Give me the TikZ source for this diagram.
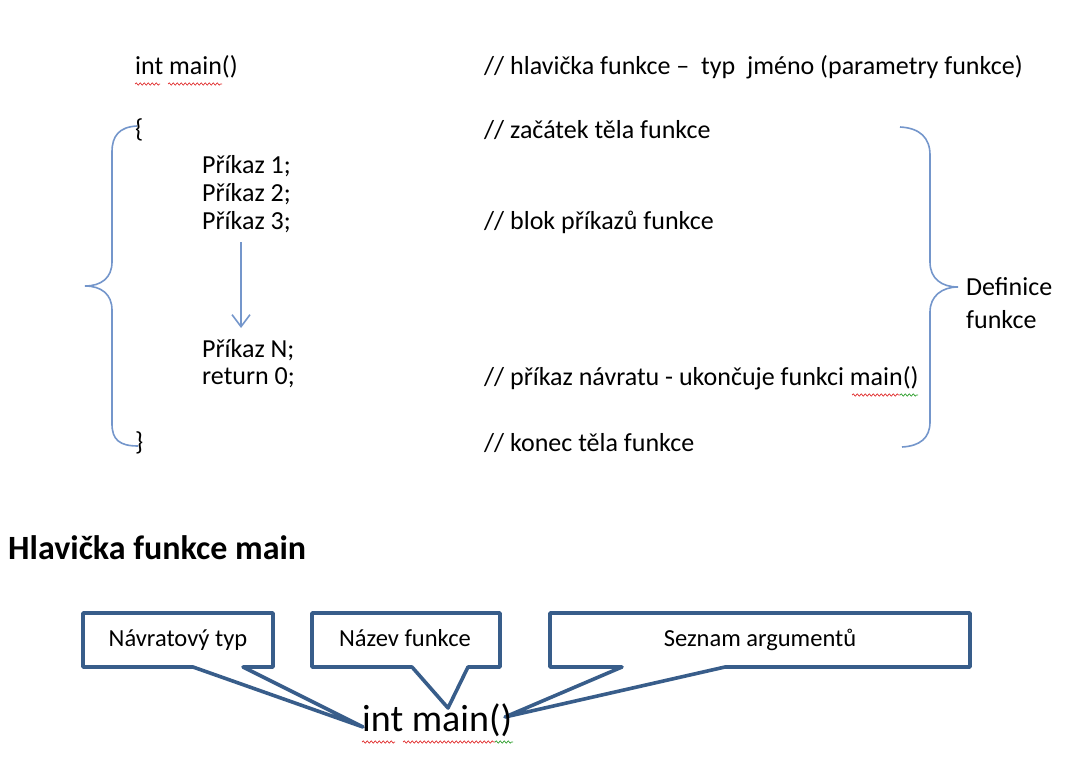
\documentclass[tikz,border=0pt]{standalone}
\usepackage{fontspec}
\setmainfont{Carlito}
\usetikzlibrary{arrows.meta,decorations.pathmorphing}
\definecolor{bracec}{HTML}{7496CB}
\definecolor{callc}{HTML}{385D8A}
\definecolor{spellred}{HTML}{E03030}
\definecolor{spellgreen}{HTML}{30A030}
\tikzset{
  txt/.style={anchor=west, inner sep=0pt, font=\fontsize{26}{31}\selectfont},
  ctxt/.style={anchor=base, inner sep=0pt, font=\fontsize{24.5}{29}\selectfont},
  bracepath/.style={draw=bracec, line width=1.6pt},
  calloutshape/.style={draw=callc, line width=3.6pt, fill=white, line join=round},
  flowarrow/.style={draw=bracec, line width=1.6pt, -{Straight Barb[length=12pt,width=18pt,line width=1.6pt]}},
  wavy/.style={line width=0.7pt, decorate, decoration={snake, amplitude=1.1pt, segment length=4pt}}
}
\begin{document}
\begin{tikzpicture}[x=1pt,y=-1pt]
\path[use as bounding box] (0,0) rectangle (1082,760);

% code lines
\node[txt] (hdr) at (135,67) {int main()};
\node[txt] (c1) at (484,67) {// hlavička funkce –\ \ typ\ \ jméno (parametry funkce)};
\node[txt] (ob) at (135,130) {\{};
\node[txt] (c2) at (484,130) {// začátek těla funkce};
\node[txt] (p1) at (202,166) {Příkaz 1;};
\node[txt] (p2) at (202,194) {Příkaz 2;};
\node[txt] (p3) at (202,222) {Příkaz 3;};
\node[txt] (c3) at (484,222) {// blok příkazů funkce};
\node[txt] (pn) at (202,350) {Příkaz N;};
\node[txt] (ret) at (202,378) {return 0;};
\node[txt] (c4) at (484,378) {// příkaz návratu - ukončuje funkci main()};
\node[txt] (cb) at (135,443) {\}};
\node[txt] (c5) at (484,443) {// konec těla funkce};
\node[txt] (def1) at (966,287) {Definice};
\node[txt] (def2) at (966,320) {funkce};

% spell-check underlines
\draw[spellred, wavy] (135,84) -- (160,84);
\draw[spellred, wavy] (168,84) -- (222,84);
\draw[spellred, wavy] (852,395) -- (900,395);
\draw[spellgreen, wavy] (900,395) -- (918,395);

% flow arrow
\coordinate (aS) at (241,242);
\coordinate (aE) at (241,328);
\draw[flowarrow] (aS) -- (aE);

% braces
\draw[bracepath] (137,126) .. controls (119,127) and (112,136) .. (112,152) -- (112,262)
  .. controls (112,278) and (101,286) .. (85,286)
  .. controls (101,286) and (112,294) .. (112,310) -- (112,424)
  .. controls (112,440) and (120,446) .. (138,446);
\draw[bracepath] (900,127) .. controls (920,128) and (930,138) .. (930,155) -- (930,262)
  .. controls (930,279) and (942,287) .. (958,287)
  .. controls (942,287) and (930,296) .. (930,312) -- (930,422)
  .. controls (930,438) and (920,446) .. (902,447);

% heading
\node[anchor=west, inner sep=0pt, font=\fontsize{34}{40}\selectfont\bfseries] (head) at (8,548) {Hlavička funkce main};

% callouts
\draw[calloutshape] (83,613) -- (273,613) -- (273,667) -- (243,667) -- (363,727) -- (193,667) -- (83,667) -- cycle;
\draw[calloutshape] (312,613) -- (500,613) -- (500,667) -- (468,667) -- (448,708) -- (412,667) -- (312,667) -- cycle;
\draw[calloutshape] (550,613) -- (970,613) -- (970,667) -- (725,667) -- (505,717) -- (622,667) -- (550,667) -- cycle;
\node[ctxt] (b1) at (178,646) {Návratový typ};
\node[ctxt] (b2) at (405,646) {Název funkce};
\node[ctxt] (b3) at (760,646) {Seznam argumentů};

\node[anchor=west, inner sep=0pt, font=\fontsize{38}{44}\selectfont] (im) at (362,720) {int main()};
\draw[spellred, wavy] (362,742) -- (395,742);
\draw[spellred, wavy] (403,742) -- (495,742);
\draw[spellgreen, wavy] (495,742) -- (513,742);
\end{tikzpicture}
\end{document}
